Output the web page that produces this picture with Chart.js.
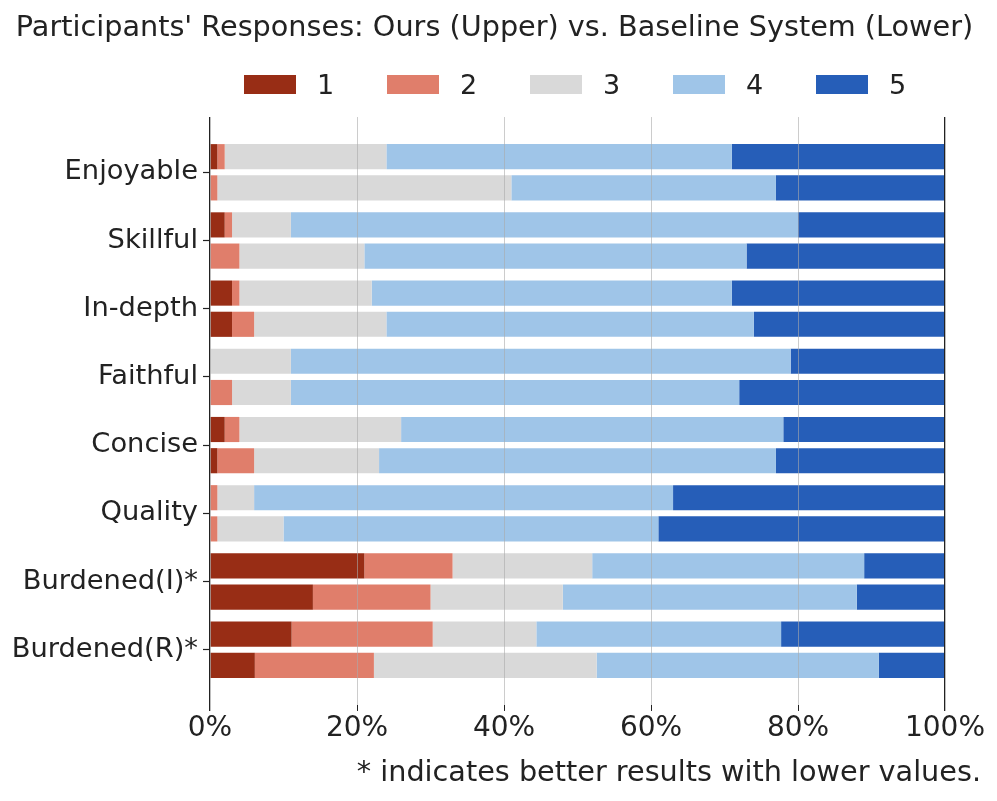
<!DOCTYPE html>
<html>
<head>
<meta charset="utf-8">
<script src="https://cdn.jsdelivr.net/npm/chart.js@4.4.1/dist/chart.umd.min.js"></script>
<style>
  html, body { margin: 0; padding: 0; background: #fff; }
  #wrap { position: relative; width: 997px; height: 801px; }
  #legend {
    position: absolute; left: 244px; top: 74px; display: flex;
    font-family: "DejaVu Sans", sans-serif; font-size: 27px; color: #222;
  }
  .item { display: flex; align-items: center; width: 143px; height: 20px; }
  .box { width: 52px; height: 19px; margin-right: 21px; }
</style>
</head>
<body>
<div id="wrap">
  <canvas id="chart"></canvas>
  <div id="legend"></div>
</div>
<script>
const categories = ['Enjoyable', 'Skillful', 'In-depth', 'Faithful', 'Concise', 'Quality', 'Burdened(I)*', 'Burdened(R)*'];
const levels = ['1', '2', '3', '4', '5'];
const levelColors = ['#982D15', '#E07E6B', '#D9D9D9', '#9FC5E8', '#265EB8'];

// Ours (upper bar), percent of answers per level
const ours1 = [1, 2, 3, 0, 2, 0, 21, 11.1];
const ours2 = [1, 1, 1, 0, 2, 1, 12, 19.2];
const ours3 = [22, 8, 18, 11, 22, 5, 19, 14.1];
const ours4 = [47, 69, 49, 68, 52, 57, 37, 33.3];
const ours5 = [29, 20, 29, 21, 22, 37, 11, 22.3];

// Baseline system (lower bar)
const base1 = [0, 0, 3, 0, 1, 0, 14, 6.1];
const base2 = [1, 4, 3, 3, 5, 1, 16, 16.2];
const base3 = [40, 17, 18, 8, 17, 9, 18, 30.3];
const base4 = [36, 52, 50, 61, 54, 51, 40, 38.4];
const base5 = [23, 27, 26, 28, 23, 39, 12, 9.0];

const xTicks = [0, 20, 40, 60, 80, 100];

const FONT = '"DejaVu Sans", sans-serif';
Chart.defaults.font.family = FONT;
Chart.defaults.color = '#222';

function makeDataset(values, level, stack) {
  return {
    label: levels[level],
    data: values.map((v, i) => ({ x: v, y: i })),
    backgroundColor: levelColors[level],
    borderWidth: 0,
    stack: stack,
    categoryPercentage: 0.915,
    barPercentage: 0.806,
  };
}

const datasets = [];
[ours1, ours2, ours3, ours4, ours5].forEach((arr, i) => datasets.push(makeDataset(arr, i, 'ours')));
[base1, base2, base3, base4, base5].forEach((arr, i) => datasets.push(makeDataset(arr, i, 'base')));

const isEdge = (ctx) => ctx.tick && (ctx.tick.value === 0 || ctx.tick.value === 100);

const ctx = document.getElementById('chart').getContext('2d');
new Chart(ctx, {
  type: 'bar',
  data: { datasets: datasets },
  options: {
    indexAxis: 'y',
    responsive: true,
    maintainAspectRatio: false,
    animation: false,
    layout: { padding: { left: 8, right: 16, top: 0, bottom: 0 } },
    scales: {
      x: {
        stacked: true,
        min: 0,
        max: 100,
        afterBuildTicks: (scale) => { scale.ticks = xTicks.map(v => ({ value: v })); },
        afterFit: (scale) => { scale.paddingRight = 52; scale.height = 38.6; },
        ticks: { callback: (v) => v + '%', font: { size: 28 }, color: '#222', padding: 1, maxRotation: 0 },
        grid: {
          z: 1,
          color: (c) => isEdge(c) ? '#222' : 'rgba(170,170,170,0.6)',
          lineWidth: (c) => isEdge(c) ? 1.3 : 1,
          tickLength: 6,
          tickColor: '#222',
        },
        border: { display: false },
      },
      y: {
        type: 'linear',
        reverse: true,
        offset: false,
        min: -0.81,
        max: 7.81,
        afterBuildTicks: (scale) => { scale.ticks = categories.map((c, i) => ({ value: i })); },
        afterFit: (scale) => { scale.width = 202; },
        ticks: { callback: (v) => categories[v], font: { size: 27.3 }, color: '#222', padding: 5, autoSkip: false },
        grid: { offset: false, drawOnChartArea: false, tickLength: 7, tickColor: '#222', tickWidth: 1.2 },
        border: { display: false },
      },
    },
    plugins: {
      legend: { display: false },
      tooltip: { enabled: false },
      title: {
        display: true,
        text: "Participants' Responses: Ours (Upper) vs. Baseline System (Lower)",
        font: { size: 28.7, weight: 'normal' },
        color: '#222',
        padding: { top: 11, bottom: 71.6 },
      },
      subtitle: {
        display: true,
        position: 'bottom',
        align: 'end',
        text: '* indicates better results with lower values.',
        font: { size: 28.7, weight: 'normal' },
        color: '#222',
        padding: { top: 13, bottom: 10 },
      },
    },
  },
});

// legend built from the same level names / colours
const legendEl = document.getElementById('legend');
levels.forEach((lv, i) => {
  const item = document.createElement('div');
  item.className = 'item';
  const box = document.createElement('span');
  box.className = 'box';
  box.style.background = levelColors[i];
  const txt = document.createElement('span');
  txt.textContent = lv;
  item.appendChild(box);
  item.appendChild(txt);
  legendEl.appendChild(item);
});
</script>
</body>
</html>
